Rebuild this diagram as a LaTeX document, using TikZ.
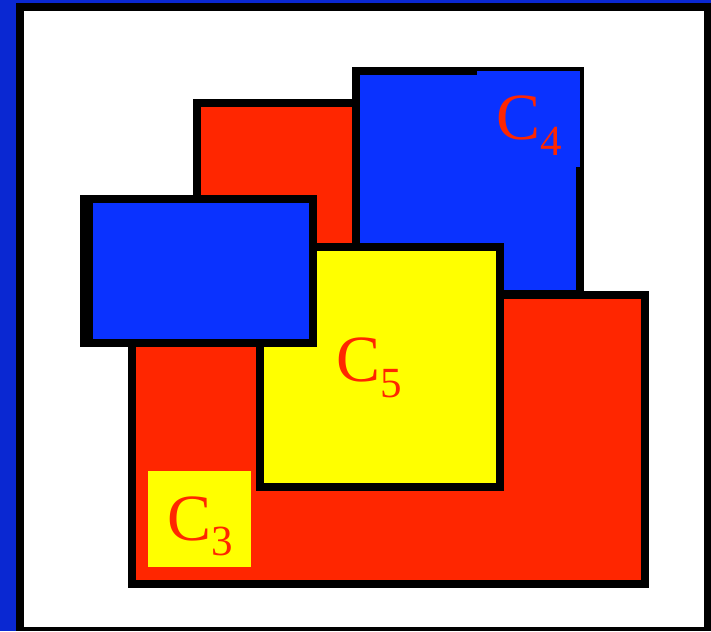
\documentclass[tikz,border=0pt]{standalone}
\usepackage{fontspec}
\setmainfont{Liberation Serif}
\definecolor{cred}{HTML}{FF2600}
\definecolor{cblue}{HTML}{0A32FF}
\definecolor{cyel}{HTML}{FFFF00}
\definecolor{strip}{HTML}{0A28D2}
\tikzset{
  region/.style={draw=black,line width=8pt,line join=miter},
  lbl/.style={text=cred,inner sep=0pt,anchor=base west},
}
\newcommand{\lab}[1]{{\fontsize{66}{66}\selectfont C}{\fontsize{43}{43}\selectfont\raisebox{-15.5pt}{#1}}}
\begin{document}
\begin{tikzpicture}[x=1pt,y=-1pt]
\useasboundingbox (0,0) rectangle (711,631);
% background and frame
\fill[strip] (0,0) rectangle (711,631);
\fill[black] (16,3) rectangle (711,631);
\fill[white] (24,11) rectangle (704,627);
% upper red part
\filldraw[region,fill=cred] (197,103) rectangle (366,296);
% C4
\filldraw[region,fill=cblue] (356,71) rectangle (580,294);
\fill[cblue] (477,71) rectangle (580,167);
% lower red part (C3)
\filldraw[region,fill=cred] (132,295) rectangle (644.5,583.5);
% C5
\filldraw[region,fill=cyel] (260,247) rectangle (500,487);
% left blue box
\fill[black] (80,195) rectangle (317,347);
\fill[cblue] (93,203) rectangle (309,339);
% label box C3
\fill[cyel] (148,471) rectangle (251,567);
% labels
\node[lbl] (c4) at (496,140) {\lab{4}};
\node[lbl] (c5) at (336,381.5) {\lab{5}};
\node[lbl] (c3) at (167,540) {\lab{3}};
\end{tikzpicture}
\end{document}
